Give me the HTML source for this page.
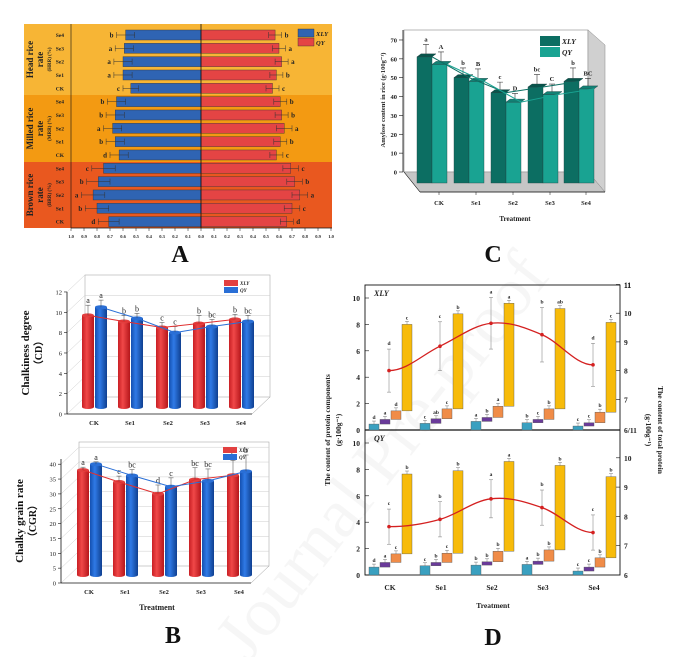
<!DOCTYPE html>
<html><head><meta charset="utf-8">
<style>
html,body{margin:0;padding:0;background:#fff}
svg{display:block;font-family:"Liberation Serif",serif}
text{font-weight:bold}
</style></head>
<body>
<svg id="s" width="681" height="657" viewBox="0 0 681 657" xmlns="http://www.w3.org/2000/svg">
<defs>
<linearGradient id="gr" x1="0" x2="1"><stop offset="0" stop-color="#c91f24"/><stop offset=".4" stop-color="#f04848"/><stop offset="1" stop-color="#b5161b"/></linearGradient>
<linearGradient id="gb" x1="0" x2="1"><stop offset="0" stop-color="#1450b0"/><stop offset=".4" stop-color="#2f7ae6"/><stop offset="1" stop-color="#0f3f90"/></linearGradient>
</defs>
<text x="400" y="470" transform="rotate(-52 400 470)" font-size="70" fill="#000" fill-opacity="0.035" text-anchor="middle" style="font-weight:normal">Journal Pre-proof</text>
<g id="A"></g>
<g id="C"></g>
<g id="B"></g>
<g id="D"></g>
</svg>
<script>
// ---------- Panel A data ----------
const rowsA = ['Se4','Se3','Se2','Se1','CK','Se4','Se3','Se2','Se1','CK','Se4','Se3','Se2','Se1','CK'];
const xlyA = [0.58,0.59,0.60,0.60,0.54, 0.65,0.66,0.68,0.66,0.63, 0.75,0.79,0.83,0.80,0.71];
const qyA  = [0.57,0.60,0.62,0.58,0.55, 0.61,0.62,0.64,0.61,0.58, 0.69,0.72,0.76,0.70,0.66];
const xlyAErr = [0.07,0.07,0.07,0.07,0.06, 0.07,0.07,0.07,0.07,0.07, 0.09,0.09,0.09,0.09,0.08];
const qyAErr  = [0.05,0.05,0.05,0.05,0.05, 0.05,0.05,0.06,0.05,0.05, 0.06,0.06,0.06,0.06,0.05];
const xlyALet = ['b','a','a','a','c','b','b','a','b','d','c','b','a','b','d'];
const qyALet  = ['b','a','a','b','c','b','b','a','b','c','c','b','a','c','d'];
const ticksA = [1.0,0.9,0.8,0.7,0.6,0.5,0.4,0.3,0.2,0.1,0.0,0.1,0.2,0.3,0.4,0.5,0.6,0.7,0.8,0.9,1.0];
// ---------- Panel C data ----------
const catsC = ['CK','Se1','Se2','Se3','Se4'];
const xlyC = [60,49,41,44,47];
const qyC = [56,47,36,40,43];
const xlyCErr = [5,3.5,4,5,5.5];
const qyCErr = [5,5,3,4,4];
const xlyCLet = ['a','b','c','bc','b'];
const qyCLet = ['A','B','D','C','BC'];
const ticksC = [0,10,20,30,40,50,60,70];
// ---------- Panel B data ----------
const catsB = ['CK','Se1','Se2','Se3','Se4'];
const xlyCD = [9.7,9.1,8.5,8.9,9.3];
const qyCD = [10.5,9.4,8.0,8.6,9.1];
const xlyCDErr = [1.0,0.6,0.5,0.8,0.5];
const qyCDErr = [0.7,0.5,0.6,0.7,0.6];
const xlyCDLet = ['a','b','c','b','b'];
const qyCDLet = ['a','b','c','bc','bc'];
const ticksCD = [0,2,4,6,8,10,12];
const xlyCGR = [38,34,30,34.8,36.3];
const qyCGR = [40,36.2,32.4,34.4,37.6];
const xlyCGRErr = [1,2,3,4,5];
const qyCGRErr = [0.8,2,3,4,5.5];
const xlyCGRLet = ['a','c','d','bc','b'];
const qyCGRLet = ['a','bc','c','bc','b'];
const ticksCGR = [0,5,10,15,20,25,30,35,40];
// ---------- Panel D data ----------
const catsD = ['CK','Se1','Se2','Se3','Se4'];
const albX = [0.45,0.5,0.65,0.55,0.3];
const gloX = [0.35,0.35,0.3,0.25,0.25];
const proX = [0.65,0.75,0.85,0.8,0.8];
const gluX = [6.55,7.2,7.8,7.6,6.8];
const totX = [8.0,8.85,9.65,9.25,8.2];
const totXErr = [0.75,0.85,0.9,0.95,0.75];
const albQ = [0.6,0.7,0.75,0.8,0.3];
const gloQ = [0.35,0.25,0.25,0.25,0.3];
const proQ = [0.65,0.7,0.8,0.85,0.7];
const gluQ = [6.05,6.25,6.8,6.4,6.15];
const totQ = [7.65,7.9,8.6,8.3,7.45];
const totQErr = [0.6,0.6,0.65,0.6,0.6];
const letX = [['d','a','d','c','d'],['c','ab','c','b','c'],['a','b','a','a','a'],['b','c','b','ab','b'],['c','c','b','c','d']];
const letQ = [['d','a','c','b','c'],['c','b','c','b','b'],['b','b','b','a','a'],['a','b','b','b','b'],['c','c','b','b','c']];
const ticksDL = [0,2,4,6,8,10];

const NS='http://www.w3.org/2000/svg';
function el(p,tag,attrs,txt){const e=document.createElementNS(NS,tag);for(const k in attrs)e.setAttribute(k,attrs[k]);if(txt!==undefined)e.textContent=txt;p.appendChild(e);return e;}

// ================= Panel A =================
(function(){
const g=document.getElementById('A');
const cx=201, k=130, y0=35, dy=13.33;
const xl=v=>cx-v*k, xr=v=>cx+v*k;
const bands=[['#f7b535',24,95,'Head rice','rate','(HRR) (%)'],['#f39a12',95,162,'Milled rice','rate','(MRR) (%)'],['#e9581f',162,228,'Brown rice','rate','(BRR) (%)']];
bands.forEach((b,i)=>{
 const r=el(g,'rect',{x:24,y:b[1],width:308,height:b[2]-b[1],fill:b[0]});
 
 
 const m=(b[1]+b[2])/2;
 el(g,'text',{x:0,y:0,transform:`translate(33,${m}) rotate(-90)`,'text-anchor':'middle','font-size':9,fill:'#222'},b[3]);
 el(g,'text',{x:0,y:0,transform:`translate(43,${m}) rotate(-90)`,'text-anchor':'middle','font-size':9,fill:'#222'},b[4]);
 el(g,'text',{x:0,y:0,transform:`translate(51,${m}) rotate(-90)`,'text-anchor':'middle','font-size':5,fill:'#222'},b[5]);
});
rowsA.forEach((r,i)=>{
 const y=y0+i*dy;
 el(g,'text',{x:64,y:y+2,'text-anchor':'end','font-size':5.5,fill:'#222'},r);
 const b1=el(g,'rect',{x:xl(xlyA[i]),y:y-5,width:xlyA[i]*k,height:10,fill:'#2f64b3',stroke:'#333','stroke-width':0.4});
 
 
 const b2=el(g,'rect',{x:cx,y:y-5,width:qyA[i]*k,height:10,fill:'#e44444',stroke:'#333','stroke-width':0.4});
 
 
 const e1=xlyAErr[i]*k, e2=qyAErr[i]*k;
 el(g,'path',{d:`M${xl(xlyA[i])-e1},${y}h${2*e1}M${xl(xlyA[i])-e1},${y-3}v6M${xl(xlyA[i])+e1},${y-3}v6`,stroke:'#333','stroke-width':0.5});
 el(g,'path',{d:`M${xr(qyA[i])-e2},${y}h${2*e2}M${xr(qyA[i])-e2},${y-3}v6M${xr(qyA[i])+e2},${y-3}v6`,stroke:'#333','stroke-width':0.5});
 el(g,'text',{x:xl(xlyA[i])-e1-3,y:y+2.5,'text-anchor':'end','font-size':7,fill:'#222'},xlyALet[i]);
 el(g,'text',{x:xr(qyA[i])+e2+3,y:y+2.5,'font-size':7,fill:'#222'},qyALet[i]);
});
el(g,'line',{x1:cx,y1:24,x2:cx,y2:228,stroke:'#111','stroke-width':0.8});
el(g,'line',{x1:71,y1:228,x2:332,y2:228,stroke:'#111','stroke-width':0.8});
el(g,'line',{x1:71,y1:24,x2:71,y2:228,stroke:'#111','stroke-width':0.6});
ticksA.forEach((t,i)=>{const x=i<10?xl(t):xr(t);
 el(g,'line',{x1:x,y1:228,x2:x,y2:231,stroke:'#111','stroke-width':0.5});
 el(g,'text',{x:x,y:238,'text-anchor':'middle','font-size':4.5,fill:'#222'},t.toFixed(1));});
const l1=el(g,'rect',{x:298,y:29,width:16,height:8,fill:'#2f64b3',stroke:'#333','stroke-width':0.4});

el(g,'text',{x:316,y:36,'font-size':6.5,'font-style':'italic',fill:'#222'},'XLY');
const l2=el(g,'rect',{x:298,y:38,width:16,height:8,fill:'#e44444',stroke:'#333','stroke-width':0.4});

el(g,'text',{x:316,y:45,'font-size':6.5,'font-style':'italic',fill:'#222'},'QY');
const lab=el(g,'text',{x:180,y:262,'text-anchor':'middle','font-size':24,fill:'#111'},'A');

})();

// ================= Panel C =================
(function(){
const g=document.getElementById('C');
const y=v=>172-v*1.886;
el(g,'rect',{x:404,y:30,width:184,height:142,fill:'#fff',stroke:'#888','stroke-width':0.6});
el(g,'polygon',{points:'588,30 605,45 605,192 588,172',fill:'#d0d0d0',stroke:'#888','stroke-width':0.5});
el(g,'polygon',{points:'404,172 588,172 605,192 420,192',fill:'#c6c6c6',stroke:'#888','stroke-width':0.5});
el(g,'line',{x1:403,y1:30,x2:403,y2:172,stroke:'#111','stroke-width':0.8});
ticksC.forEach(t=>{el(g,'line',{x1:403,y1:y(t),x2:399,y2:y(t),stroke:'#111','stroke-width':0.6});
 el(g,'text',{x:397,y:y(t)+2.5,'text-anchor':'end','font-size':6.5,fill:'#222'},t);});
el(g,'line',{x1:420,y1:192,x2:605,y2:192,stroke:'#111','stroke-width':0.8});
el(g,'line',{x1:404,y1:172,x2:420,y2:192,stroke:'#111','stroke-width':0.6});
const gx=[417,454,491,528,564];
const tx=[],ty=[],qx=[],qy=[];
catsC.forEach((c,i)=>{
 const x=gx[i];
 [[xlyC,xlyCErr,xlyCLet,'#0c6e62','#08544b',0],[qyC,qyCErr,qyCLet,'#19a392','#128074',15]].forEach(s=>{
  const v=s[0][i], bx=x+s[5], top=y(v)-2;
  const r=el(g,'rect',{x:bx,y:top,width:15,height:183-top,fill:s[3],stroke:'#244','stroke-width':0.4});
  
  
  el(g,'polygon',{points:`${bx},${top} ${bx+4},${top-3} ${bx+19},${top-3} ${bx+15},${top}`,fill:s[4],stroke:'#244','stroke-width':0.4});
  const e=s[1][i]*1.886;
  el(g,'path',{d:`M${bx+9},${top-3}V${top-3-e}M${bx+6},${top-3-e}h6`,stroke:'#333','stroke-width':0.6});
  el(g,'text',{x:bx+9,y:top-6-e,'text-anchor':'middle','font-size':6.5,fill:'#222'},s[2][i]);
  if(s[5]){qx.push(bx+15);qy.push(top);}else{tx.push(bx+15);ty.push(top);}
 });
 el(g,'text',{x:x+22,y:205,'text-anchor':'middle','font-size':6.5,fill:'#222'},c);
 el(g,'line',{x1:x+22,y1:192,x2:x+22,y2:195,stroke:'#111','stroke-width':0.5});
});
el(g,'polyline',{points:tx.map((v,i)=>v+','+ty[i]).join(' '),fill:'none',stroke:'#0c6e62','stroke-width':1});
el(g,'polyline',{points:qx.map((v,i)=>v+','+qy[i]).join(' '),fill:'none',stroke:'#19a392','stroke-width':1});
el(g,'text',{x:515,y:221,'text-anchor':'middle','font-size':7,fill:'#222'},'Treatment');
el(g,'text',{x:0,y:0,transform:'translate(385,100) rotate(-90)','text-anchor':'middle','font-size':6.5,fill:'#222'},'Amylose content in rice (g·100g⁻¹)');
const a=el(g,'rect',{x:540,y:36,width:20,height:10,fill:'#0c6e62'});
const b=el(g,'rect',{x:540,y:47,width:20,height:10,fill:'#19a392'});
el(g,'text',{x:562,y:44,'font-size':7.5,'font-style':'italic',fill:'#222'},'XLY');
el(g,'text',{x:562,y:55,'font-size':7.5,'font-style':'italic',fill:'#222'},'QY');
const l=el(g,'text',{x:493,y:262,'text-anchor':'middle','font-size':24,fill:'#111'},'C');

})();

// ================= Panel B =================
function cylChart(g,o){
 const y=v=>o.y0-v*o.k;
 const ox=18, oy=-17;
 el(g,'rect',{x:o.ax+ox,y:o.y1+oy,width:o.w,height:o.y0-o.y1,fill:'#fff',stroke:'#999','stroke-width':0.5});
 o.ticks.forEach(t=>{
  el(g,'line',{x1:o.ax+ox,y1:y(t)+oy,x2:o.ax+ox+o.w,y2:y(t)+oy,stroke:'#ccc','stroke-width':0.5});
  el(g,'line',{x1:o.ax,y1:y(t),x2:o.ax+ox,y2:y(t)+oy,stroke:'#ccc','stroke-width':0.5});
  el(g,'line',{x1:o.ax,y1:y(t),x2:o.ax-3,y2:y(t),stroke:'#111','stroke-width':0.6});
  el(g,'text',{x:o.ax-5,y:y(t)+2.5,'text-anchor':'end','font-size':6.5,fill:'#222',style:'font-weight:normal'},t);
 });
 el(g,'line',{x1:o.ax,y1:o.y0,x2:o.ax,y2:o.y1,stroke:'#111','stroke-width':0.8});
 el(g,'line',{x1:o.ax,y1:o.y0,x2:o.ax+o.w,y2:o.y0,stroke:'#111','stroke-width':0.8});
 el(g,'line',{x1:o.ax+o.w,y1:o.y0,x2:o.ax+o.w+ox,y2:o.y0+oy,stroke:'#999','stroke-width':0.5});
 const rx=[],ry=[],bxs=[],bys=[];
 o.cats.forEach((c,i)=>{
  const x=o.gx[i];
  [[o.a,o.ae,o.al,'url(#gr)','#e24040',0],[o.b,o.be,o.bl,'url(#gb)','#2a6fd6',13]].forEach(s=>{
   const v=s[0][i], bx=x+s[5], top=y(v);
   const r=el(g,'rect',{x:bx,y:top,width:12,height:o.bot-top,fill:s[3]});
   
   
   el(g,'ellipse',{cx:bx+6,cy:o.bot,rx:6,ry:2,fill:s[3]});
   el(g,'ellipse',{cx:bx+6,cy:top,rx:6,ry:2,fill:s[4]});
   const e=s[1][i]*o.k;
   el(g,'path',{d:`M${bx+6},${top}V${top-e}M${bx+3.5},${top-e}h5`,stroke:'#444','stroke-width':0.5});
   el(g,'text',{x:bx+6,y:top-e-2,'text-anchor':'middle','font-size':8,fill:'#222',style:'font-weight:normal'},s[2][i]);
   if(s[5]){bxs.push(bx+6);bys.push(top);}else{rx.push(bx+6);ry.push(top);}
  });
  el(g,'text',{x:x+12,y:o.y0+11,'text-anchor':'middle','font-size':6.5,fill:'#222'},c);
 });
 el(g,'polyline',{points:rx.map((v,i)=>v+','+ry[i]).join(' '),fill:'none',stroke:'#e03030','stroke-width':1});
 el(g,'polyline',{points:bxs.map((v,i)=>v+','+bys[i]).join(' '),fill:'none',stroke:'#2a6fd6','stroke-width':1});
 const lx=o.ax+o.w-28, ly=o.y1+oy+5;
 const a=el(g,'rect',{x:lx,y:ly,width:14,height:6,fill:'#e24040'});
 const b=el(g,'rect',{x:lx,y:ly+7,width:14,height:6,fill:'#2a6fd6'});
 el(g,'text',{x:lx+16,y:ly+5,'font-size':5,'font-style':'italic',fill:'#222'},'XLY');
 el(g,'text',{x:lx+16,y:ly+12,'font-size':5,'font-style':'italic',fill:'#222'},'QY');
 el(g,'text',{x:0,y:0,transform:`translate(${o.ax-38},${(o.y0+o.y1)/2}) rotate(-90)`,'text-anchor':'middle','font-size':11,fill:'#111'},o.t1);
 el(g,'text',{x:0,y:0,transform:`translate(${o.ax-25},${(o.y0+o.y1)/2}) rotate(-90)`,'text-anchor':'middle','font-size':10,fill:'#111'},o.t2);
}
(function(){
const g=document.getElementById('B');
const g1=el(g,'g',{});
cylChart(g1,{ax:67,y0:414,y1:292,k:10.17,w:185,bot:407,ticks:ticksCD,cats:catsB,gx:[82,118,156,193,229],a:xlyCD,b:qyCD,ae:xlyCDErr,be:qyCDErr,al:xlyCDLet,bl:qyCDLet,t1:'Chalkiness degree',t2:'（CD）'});
const g2=el(g,'g',{});
cylChart(g2,{ax:61,y0:583,y1:459,k:2.97,w:190,bot:575,ticks:ticksCGR,cats:catsB,gx:[77,113,152,189,227],a:xlyCGR,b:qyCGR,ae:xlyCGRErr,be:qyCGRErr,al:xlyCGRLet,bl:qyCGRLet,t1:'Chalky grain rate',t2:'（CGR）'});
el(g,'text',{x:157,y:610,'text-anchor':'middle','font-size':8,fill:'#222'},'Treatment');
const l=el(g,'text',{x:173,y:643,'text-anchor':'middle','font-size':24,fill:'#111'},'B');

})();

// ================= Panel D =================
(function(){
const g=document.getElementById('D');
el(g,'rect',{x:365,y:285,width:255,height:290,fill:'none',stroke:'#111','stroke-width':0.9});
el(g,'line',{x1:365,y1:430,x2:620,y2:430,stroke:'#111','stroke-width':1.2});
const gx=[369,420,471,522,573];
const panels=[
 {y0:430,k:13.2,ry6:428,rk:28.7,alb:albX,glo:gloX,pro:proX,glu:gluX,tot:totX,err:totXErr,let:letX,name:'XLY',rt:[7,8,9,10,11]},
 {y0:575,k:13.2,ry6:575,rk:29.3,alb:albQ,glo:gloQ,pro:proQ,glu:gluQ,tot:totQ,err:totQErr,let:letQ,name:'QY',rt:[7,8,9,10]}
];
const cols=['#3aa0c0','#6a3a9a','#f08c48','#f7bb0a'];
panels.forEach((p,pi)=>{
 const y=v=>p.y0-v*p.k, yr=v=>p.ry6-(v-6)*p.rk;
 const sg=el(g,'g',{});
 ticksDL.forEach(t=>{el(sg,'line',{x1:365,y1:y(t),x2:369,y2:y(t),stroke:'#111','stroke-width':0.6});
  el(sg,'text',{x:360,y:y(t)+3,'text-anchor':'end','font-size':7.5,fill:'#222'},t);});
 p.rt.forEach(t=>{el(sg,'line',{x1:620,y1:yr(t),x2:616,y2:yr(t),stroke:'#111','stroke-width':0.6});
  el(sg,'text',{x:624,y:yr(t)+3,'font-size':7.5,fill:'#222'},t);});
 el(sg,'text',{x:374,y:p.y0-134,'font-size':8,'font-style':'italic',fill:'#222'},p.name);
 const lx=[],ly=[];
 catsD.forEach((c,i)=>{
  const vals=[p.alb[i],p.glo[i],p.pro[i],p.glu[i]];
  let cum=0;
  vals.forEach((v,j)=>{
   const base=j===0?0:cum; const top=cum+v;
   const bx=gx[i]+j*11;
   const r=el(sg,'rect',{x:bx,y:y(top),width:10,height:(top-base)*p.k,fill:cols[j],stroke:'#555','stroke-width':0.4});
   
   
   el(sg,'path',{d:`M${bx+5},${y(top)}v-3M${bx+3},${y(top)-3}h4`,stroke:'#555','stroke-width':0.4});
   el(sg,'text',{x:bx+5,y:y(top)-5,'text-anchor':'middle','font-size':5.5,fill:'#222'},p.let[i][j]);
   cum=top;
  });
  const px=gx[i]+20, py=yr(p.tot[i]), e=p.err[i]*p.rk;
  el(sg,'path',{d:`M${px},${py-e}V${py+e}M${px-2},${py-e}h4M${px-2},${py+e}h4`,stroke:'#777','stroke-width':0.5});
  el(sg,'text',{x:px,y:py-e-4,'text-anchor':'middle','font-size':5.5,fill:'#222'},p.let[i][4]);
  lx.push(px);ly.push(py);
  if(pi===1) el(sg,'text',{x:gx[i]+21,y:590,'text-anchor':'middle','font-size':7.5,fill:'#222'},c);
 });
 let d=`M${lx[0]},${ly[0]}`;
 for(let i=0;i<lx.length-1;i++){const mx=(lx[i+1]-lx[i])/2;d+=` C${lx[i]+mx*0.7},${ly[i]+(i>0?(ly[i+1]-ly[i-1])*0.18:0)} ${lx[i+1]-mx*0.7},${ly[i+1]-(i+2<lx.length?(ly[i+2]-ly[i])*0.18:0)} ${lx[i+1]},${ly[i+1]}`;}
 const ln=el(sg,'path',{d:d,fill:'none',stroke:'#d42020','stroke-width':1.3});
 
 lx.forEach((x,i)=>el(sg,'circle',{cx:x,cy:ly[i],r:1.8,fill:'#d42020'}));
});
el(g,'text',{x:624,y:285+3,'font-size':7.5,fill:'#222'},'11');
el(g,'text',{x:624,y:433,'font-size':7.5,fill:'#222'},'6/11');
el(g,'text',{x:624,y:578,'font-size':7.5,fill:'#222'},'6');
el(g,'text',{x:0,y:0,transform:'translate(330,430) rotate(-90)','text-anchor':'middle','font-size':7.5,fill:'#222'},'The content of protein components');
el(g,'text',{x:0,y:0,transform:'translate(341,430) rotate(-90)','text-anchor':'middle','font-size':7.5,fill:'#222'},'(g·100g⁻¹)');
el(g,'text',{x:0,y:0,transform:'translate(658,430) rotate(90)','text-anchor':'middle','font-size':7.5,fill:'#222'},'The content of total protein');
el(g,'text',{x:0,y:0,transform:'translate(646,430) rotate(90)','text-anchor':'middle','font-size':7.5,fill:'#222'},'(g·100g⁻¹)');
el(g,'text',{x:493,y:608,'text-anchor':'middle','font-size':7.5,fill:'#222'},'Treatment');
const l=el(g,'text',{x:493,y:645,'text-anchor':'middle','font-size':24,fill:'#111'},'D');

})();
</script>
</body></html>
